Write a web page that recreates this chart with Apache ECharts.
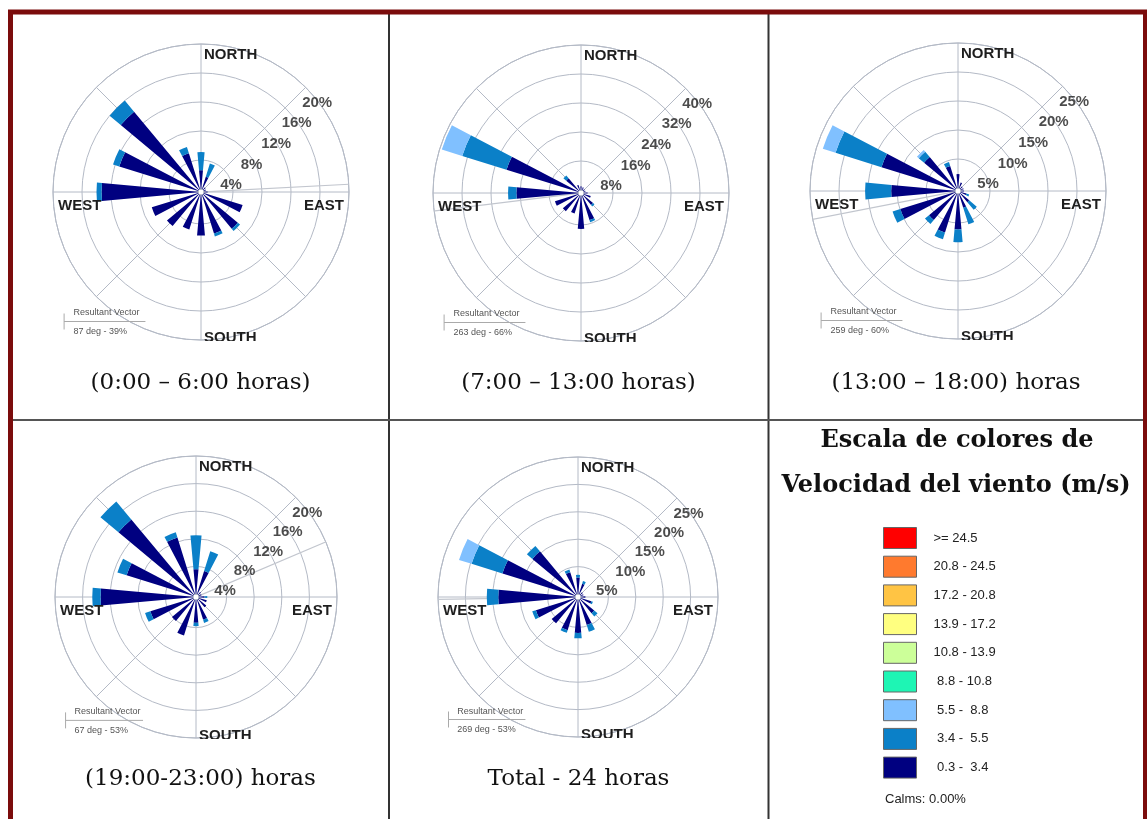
<!DOCTYPE html>
<html><head><meta charset="utf-8">
<script src="https://cdn.jsdelivr.net/npm/echarts@6/dist/echarts.min.js"></script>
<style>html,body{margin:0;padding:0;background:#fff}#c{width:1147px;height:819px}</style>
</head><body><div id="c"></div>
<script>
// ---------- DATA ----------
const directions = ['N','NNE','NE','ENE','E','ESE','SE','SSE','S','SSW','SW','WSW','W','WNW','NW','NNW'];
const speedClasses = ['>= 24.5','20.8 - 24.5','17.2 - 20.8','13.9 - 17.2','10.8 - 13.9',' 8.8 - 10.8',' 5.5 -  8.8',' 3.4 -  5.5',' 0.3 -  3.4'];
const classColors = ['#ff0000','#ff7a2e','#ffc444','#ffff80','#ccff99','#1ef5b4','#80c0ff','#0b80c8','#000080'];

// Rose 1 (0:00 - 6:00), % frequency per direction and speed class
const rose1Slow = [2.6, 1.8, 0.4, 0.3, 0.5, 5.6, 6.2, 5.6, 5.6, 5.0, 5.7, 6.7, 13.3, 11.4, 14.0, 5.2];
const rose1Mid  = [2.5, 1.9, 0, 0, 0, 0, 0.4, 0.4, 0, 0, 0, 0, 0.7, 0.9, 2.0, 0.9];
const rose1Fast = [0, 0, 0, 0, 0, 0, 0, 0, 0, 0, 0, 0, 0, 0, 0, 0];
// Rose 2 (7:00 - 13:00)
const rose2Slow = [1.0, 0.8, 0.5, 0.5, 1.0, 2.0, 3.5, 7.0, 9.1, 5.1, 5.7, 6.7, 17.0, 20.7, 4.5, 1.5];
const rose2Mid  = [0, 0, 0, 0, 0, 0, 0.5, 0.6, 0, 0, 0, 0, 2.3, 12.8, 1.0, 0];
const rose2Fast = [0, 0, 0, 0, 0, 0, 0, 0, 0, 0, 0, 0, 0, 5.9, 0, 0];
// Rose 3 (13:00 - 18:00)
const rose3Slow = [2.4, 1.0, 0.5, 0.5, 0.5, 1.0, 2.0, 2.5, 6.1, 7.0, 6.0, 9.9, 11.0, 13.3, 7.1, 4.0];
const rose3Mid  = [0, 0, 0, 0, 0, 0.5, 1.7, 3.0, 2.2, 1.2, 0.9, 1.4, 4.5, 8.3, 1.2, 0.7];
const rose3Fast = [0, 0, 0, 0, 0, 0, 0, 0, 0, 0, 0, 0, 0, 2.3, 0.4, 0];
// Rose 4 (19:00 - 23:00)
const rose4Slow = [3.6, 3.5, 0.5, 0.4, 0.8, 1.2, 1.5, 3.0, 3.3, 5.4, 4.1, 6.5, 13.4, 10.1, 14.2, 8.6];
const rose4Mid  = [4.9, 3.0, 0, 0, 0.4, 0, 0, 0.5, 0.5, 0, 0, 0.8, 1.2, 1.4, 3.4, 0.8];
const rose4Fast = [0, 0, 0, 0, 0, 0, 0, 0, 0, 0, 0, 0, 0, 0, 0, 0];
// Rose 5 (Total - 24 h)
const rose5Slow = [3.0, 2.0, 0.6, 0.5, 0.8, 2.0, 3.3, 4.8, 6.0, 5.8, 5.7, 7.5, 14.0, 13.9, 10.3, 4.2];
const rose5Mid  = [0.5, 0.5, 0, 0, 0, 0.3, 0.8, 1.3, 1.0, 0.5, 0, 0.7, 2.1, 5.9, 1.3, 0.5];
const rose5Fast = [0, 0, 0, 0, 0, 0, 0, 0, 0, 0, 0, 0, 0, 2.4, 0, 0];

const ringMax = [20, 40, 25, 20, 25];
const ringValues = [[4,8,12,16,20],[8,16,24,32,40],[5,10,15,20,25],[4,8,12,16,20],[5,10,15,20,25]];
const ringLabels = [['4%','8%','12%','16%','20%'],['8%','16%','24%','32%','40%'],['5%','10%','15%','20%','25%'],['4%','8%','12%','16%','20%'],['5%','10%','15%','20%','25%']];
const resultantDeg = [87, 263, 259, 67, 269];
const resultantText = ['87 deg - 39%','263 deg - 66%','259 deg - 60%','67 deg - 53%','269 deg - 53%'];
const captions = ['(0:00 \u2013 6:00 horas)','(7:00 \u2013 13:00 horas)','(13:00 \u2013 18:00) horas','(19:00-23:00) horas','Total - 24 horas'];
const cardinals = ['NORTH','SOUTH','WEST','EAST'];
const legendTitle = ['Escala de colores de','Velocidad del viento (m/s)'];
const calmsText = 'Calms: 0.00%';

const roseData = [
  [rose1Slow, rose1Mid, rose1Fast],
  [rose2Slow, rose2Mid, rose2Fast],
  [rose3Slow, rose3Mid, rose3Fast],
  [rose4Slow, rose4Mid, rose4Fast],
  [rose5Slow, rose5Mid, rose5Fast]
];

// ---------- LAYOUT ----------
const layout = [
  {cx:201, cy:192, R:148, cellL:13, cellR:388, capY:383},
  {cx:581, cy:193, R:148, cellL:390, cellR:767, capY:383},
  {cx:958, cy:191, R:148, cellL:770, cellR:1142, capY:383},
  {cx:196, cy:597, R:141, cellL:13, cellR:388, capY:779},
  {cx:578, cy:597, R:140, cellL:390, cellR:767, capY:779}
];
const gridColor = '#b4bac6';
const labelFont = '"Liberation Sans", Arial, sans-serif';
const serifFont = '"DejaVu Serif", serif';

const polar = [], angleAxis = [], radiusAxis = [], series = [], graphic = [];

layout.forEach((L, i) => {
  const M = ringMax[i];
  polar.push({center:[L.cx, L.cy], radius:[3, L.R]});
  polar.push({center:[L.cx, L.cy], radius:[3, L.R]});
  angleAxis.push({polarIndex:2*i, type:'value', min:0, max:360, interval:45, startAngle:90, clockwise:true,
    axisLine:{show:true, lineStyle:{color:gridColor, width:1}}, axisTick:{show:false}, axisLabel:{show:false},
    splitLine:{show:true, lineStyle:{color:gridColor, width:1}}});
  radiusAxis.push({polarIndex:2*i, type:'value', min:0, max:M, interval:M/5,
    axisLine:{show:false}, axisTick:{show:false}, axisLabel:{show:false},
    splitLine:{show:true, lineStyle:{color:gridColor, width:1}}});
  angleAxis.push({polarIndex:2*i+1, type:'category', data:directions, boundaryGap:false, startAngle:90, clockwise:true, show:false});
  radiusAxis.push({polarIndex:2*i+1, type:'value', min:0, max:M, show:false});

  // resultant vector line
  series.push({type:'line', coordinateSystem:'polar', polarIndex:2*i, silent:true, clip:false, symbol:'none', z:1,
    data:[[0, resultantDeg[i]], [M*1.04, resultantDeg[i]]],
    lineStyle:{color:'#c2c6ce', width:1.2}});

  // bars, stacked by speed class (slow inner)
  const names = [speedClasses[8], speedClasses[7], speedClasses[6]];
  const cols = [classColors[8], classColors[7], classColors[6]];
  roseData[i].forEach((arr, k) => {
    series.push({name:names[k], type:'bar', coordinateSystem:'polar', polarIndex:2*i+1, stack:'rose'+i,
      barWidth:'46%', data:arr, itemStyle:{color:cols[k]}, z:3, silent:true});
  });

  // ring labels
  series.push({type:'scatter', coordinateSystem:'polar', polarIndex:2*i, symbolSize:1, silent:true, z:6,
    itemStyle:{color:'rgba(0,0,0,0)'},
    data: ringValues[i].map(v => [v, 45]),
    label:{show:true, position:[-3, 16], align:'left', verticalAlign:'middle',
      formatter: p => ringLabels[i][p.dataIndex],
      fontSize:15, fontWeight:'bold', color:'#1e1e1e', fontFamily:labelFont}});

  // cardinal labels
  const cf = 'bold 15px ' + labelFont;
  const txt = (t, x, y, align, font, fill, z) => ({type:'text', x:x, y:y, z:z||10, silent:true,
    style:{text:t, font:font, fill:fill, align:align, verticalAlign:'middle', textAlign:align, textVerticalAlign:'middle'}});
  graphic.push(txt(cardinals[0], L.cx+3, L.cy-L.R+10.5, 'left', cf, '#1e1e1e'));
  graphic.push(txt(cardinals[1], L.cx+3, L.cy+L.R-2.6, 'left', cf, '#1e1e1e'));
  graphic.push(txt(cardinals[2], L.cx-L.R+5, L.cy+13.5, 'left', cf, '#1e1e1e'));
  graphic.push(txt(cardinals[3], L.cx+L.R-5, L.cy+13.5, 'right', cf, '#1e1e1e'));

  // resultant vector block
  const s = L.R/148;
  const tickX = L.cx - 0.925*L.R, textX = L.cx - 0.862*L.R;
  const rvY = L.cy + 0.815*L.R, lineY = L.cy + 0.875*L.R, degY = L.cy + 0.945*L.R;
  const sf = '9px ' + labelFont;
  graphic.push(txt('Resultant Vector', textX, rvY, 'left', sf, '#555'));
  graphic.push(txt(resultantText[i], textX, degY, 'left', sf, '#555'));
  graphic.push({type:'line', z:10, silent:true, shape:{x1:tickX, y1:lineY, x2:textX+72*s, y2:lineY}, style:{stroke:'#aaa', lineWidth:1}});
  graphic.push({type:'line', z:10, silent:true, shape:{x1:tickX, y1:lineY-8, x2:tickX, y2:lineY+8}, style:{stroke:'#aaa', lineWidth:1}});

  // mask (image crop below the rose)
  graphic.push({type:'rect', z:100, silent:true, shape:{x:L.cellL+1, y:L.cy+L.R+1, width:L.cellR-L.cellL-2, height:L.capY-18-(L.cy+L.R+1)},
    style:{fill:'#ffffff'}});

  // caption
  graphic.push(txt(captions[i], (L.cellL+L.cellR)/2, L.capY, 'center', '23px ' + serifFont, '#111', 101));
});

// dummy series for unused speed classes (legend only)
for (let k = 0; k < 6; k++) {
  series.push({name:speedClasses[k], type:'bar', coordinateSystem:'polar', polarIndex:1, stack:'rose0',
    barWidth:'46%', data:[], itemStyle:{color:classColors[k]}});
}

// legend title, calms
graphic.push({type:'text', x:957, y:441, z:101, silent:true, style:{text:legendTitle[0], font:'bold 24px ' + serifFont, fill:'#111', align:'center', verticalAlign:'middle', textAlign:'center', textVerticalAlign:'middle'}});
graphic.push({type:'text', x:956, y:486, z:101, silent:true, style:{text:legendTitle[1], font:'bold 24px ' + serifFont, fill:'#111', align:'center', verticalAlign:'middle', textAlign:'center', textVerticalAlign:'middle'}});
graphic.push({type:'text', x:885, y:799, z:101, silent:true, style:{text:calmsText, font:'13px ' + labelFont, fill:'#222', align:'left', verticalAlign:'middle', textAlign:'left', textVerticalAlign:'middle'}});

// table lines and frame
graphic.push({type:'line', z:110, silent:true, shape:{x1:389, y1:13, x2:389, y2:819}, style:{stroke:'#333', lineWidth:2}});
graphic.push({type:'line', z:110, silent:true, shape:{x1:768.5, y1:13, x2:768.5, y2:819}, style:{stroke:'#333', lineWidth:2}});
graphic.push({type:'line', z:110, silent:true, shape:{x1:13, y1:420, x2:1143, y2:420}, style:{stroke:'#555', lineWidth:2}});
graphic.push({type:'rect', z:120, silent:true, shape:{x:10.5, y:12, width:1135, height:900}, style:{fill:'none', stroke:'#7b0c0c', lineWidth:5}});

const chart = echarts.init(document.getElementById('c'), null, {renderer:'canvas'});
chart.setOption({
  backgroundColor:'#ffffff',
  animation:false,
  polar, angleAxis, radiusAxis, series, graphic,
  legend:{data:speedClasses, orient:'vertical', left:883, top:527, padding:0, itemWidth:33, itemHeight:21, itemGap:6.7,
    icon:'rect', selectedMode:false,
    itemStyle:{borderColor:'#666', borderWidth:1},
    textStyle:{fontSize:13, color:'#222', fontFamily:labelFont, padding:[0,0,0,12]}}
});
</script></body></html>
